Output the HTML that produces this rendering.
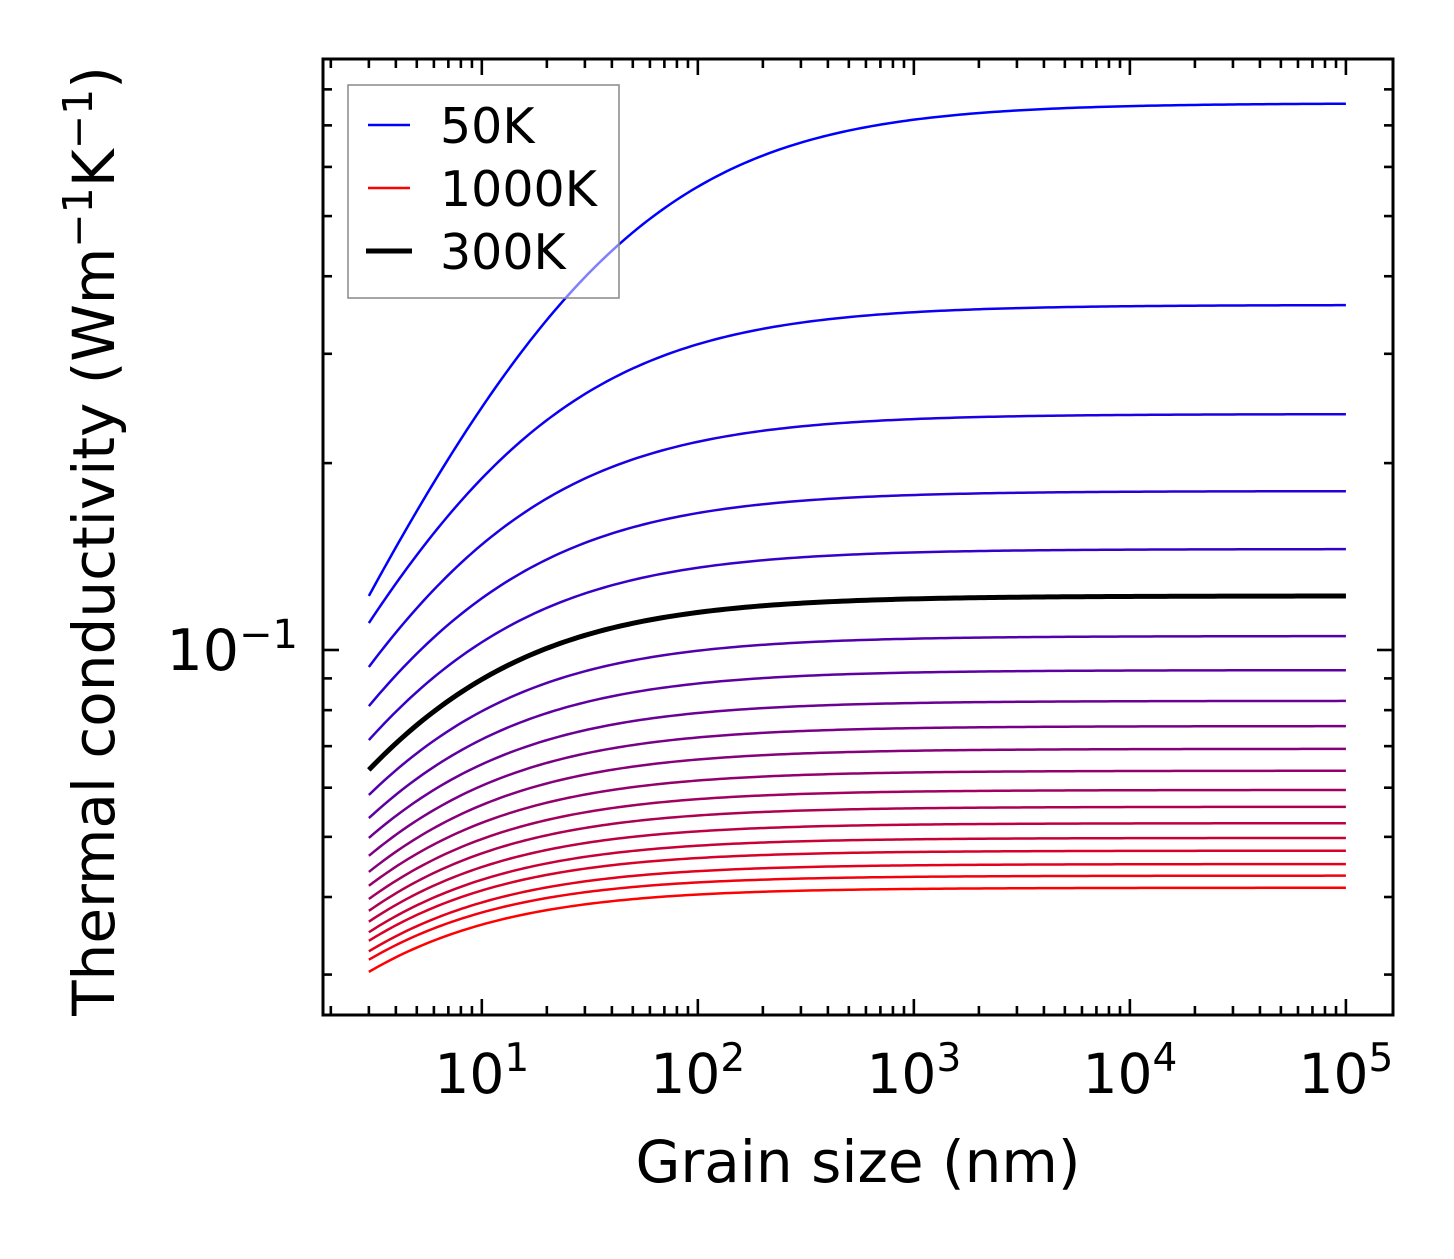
<!DOCTYPE html>
<html><head><meta charset="utf-8">
<style>
html,body{margin:0;padding:0;background:#fff;}
svg text{font-family:"DejaVu Sans","Liberation Sans",sans-serif;fill:#000;}
</style></head>
<body>
<svg id="chart" width="1454" height="1254" viewBox="0 0 1454 1254" xmlns="http://www.w3.org/2000/svg">
<rect width="1454" height="1254" fill="#fff"/>
<g id="curves"></g>
<g id="ticks"></g>
<rect x="323" y="59" width="1070" height="956" fill="none" stroke="#000" stroke-width="3"/>
<g>
<rect x="348" y="85" width="271" height="213" fill="#fff" fill-opacity="0.5" stroke="#888" stroke-width="1.5"/>
<line x1="368" y1="125" x2="410" y2="125" stroke="#0000ff" stroke-width="2.4"/>
<text x="440" y="143" font-size="49">50K</text>
<line x1="368" y1="188" x2="410" y2="188" stroke="#ff0000" stroke-width="2.4"/>
<text x="440" y="206" font-size="49">1000K</text>
<line x1="366" y1="251" x2="412" y2="251" stroke="#000" stroke-width="5"/>
<text x="440" y="269" font-size="49">300K</text>
</g>
<text x="858" y="1182" font-size="58" text-anchor="middle">Grain size (nm)</text>
<text transform="translate(114,541) rotate(-90)" font-size="58" text-anchor="middle">Thermal conductivity (Wm<tspan font-size="41" dy="-22">−1</tspan><tspan dy="22">K</tspan><tspan font-size="41" dy="-22">−1</tspan><tspan dy="22">)</tspan></text>
</svg>
<script>
// Data
const temperatures = [50,100,150,200,250,300,350,400,450,500,550,600,650,700,750,800,850,900,950,1000];
const kPlateau = [0.760,0.3596,0.2399,0.1803,0.1454,0.1222,0.1053,0.0928,0.0828,0.0754,0.0693,0.0639,0.0595,0.0559,0.0526,0.0498,0.0475,0.0452,0.0433,0.0414];
const kAtMinGrain = [0.1222,0.1105,0.0939,0.0812,0.0716,0.0641,0.0584,0.0536,0.0498,0.0466,0.0439,0.0417,0.0397,0.0380,0.0365,0.0351,0.0340,0.0327,0.0317,0.0303];
const grainMin = 3, grainMax = 1e5;
const xTickExps = [1,2,3,4,5];
const yMajorTicks = [0.1];

const NS = "http://www.w3.org/2000/svg";
const L=323,R=1393,T=59,B=1015;
const xLmin=Math.log10(1.84), xLmax=5.218;
const yLmin=-1.588, yLmax=-0.048;
const xs = v => L + (Math.log10(v)-xLmin)/(xLmax-xLmin)*(R-L);
const ys = v => B - (Math.log10(v)-yLmin)/(yLmax-yLmin)*(B-T);
function mk(tag, attrs, parent){const e=document.createElementNS(NS,tag);for(const k in attrs)e.setAttribute(k,attrs[k]);parent.appendChild(e);return e;}

const curves=document.getElementById('curves');
const p=0.76;
function drawCurve(i, color, width, name){
  const r = kPlateau[i]/kAtMinGrain[i]-1;
  const lam = grainMin*Math.pow(r,1/p);
  let d='';
  const n=200;
  for(let j=0;j<=n;j++){
    const lg=Math.log10(grainMin)+(Math.log10(grainMax)-Math.log10(grainMin))*j/n;
    const g=Math.pow(10,lg);
    const k=kPlateau[i]/(1+Math.pow(lam/g,p));
    d+=(j?'L':'M')+xs(g).toFixed(2)+','+ys(k).toFixed(2);
  }
  const el=mk('path',{d:d,fill:'none',stroke:color,'stroke-width':width},curves);
  
  
}
const N=temperatures.length;
for(let i=0;i<N;i++){
  const t=i/(N-1);
  const c='rgb('+Math.round(255*t)+',0,'+Math.round(255*(1-t))+')';
  drawCurve(i,c,2.5,'curve-'+temperatures[i]+'k');
}
drawCurve(temperatures.indexOf(300),'#000',5,'curve-300k-highlight');

const tk=document.getElementById('ticks');
function tick(x1,y1,x2,y2,name){const e=mk('line',{x1:x1,y1:y1,x2:x2,y2:y2,stroke:'#000','stroke-width':2.6},tk);
  
  }
for(let e=0;e<=5;e++){
  for(let m=1;m<=9;m++){
    const v=m*Math.pow(10,e);
    const x=xs(v);
    if(x<L+1||x>R-1)continue;
    const len=m===1?16:9;
    tick(x,B,x,B-len,'x-tick');
    tick(x,T,x,T+len,'x-tick-top');
  }
}
xTickExps.forEach(e=>{
  const x=xs(Math.pow(10,e));
  const t=mk('text',{x:x,y:1093,'font-size':55,'text-anchor':'middle'},tk);
  t.innerHTML='10<tspan font-size="39" dy="-22">'+e+'</tspan>';
  
  
});
for(let e=-2;e<=-1;e++){
  for(let m=1;m<=9;m++){
    const v=m*Math.pow(10,e);
    const y=ys(v);
    if(y<T+1||y>B-1)continue;
    const len=m===1?16:9;
    tick(L,y,L+len,y,'y-tick');
    tick(R,y,R-len,y,'y-tick-right');
  }
}
yMajorTicks.forEach(v=>{
  const t=mk('text',{x:298,y:ys(v)+20,'font-size':57,'text-anchor':'end'},tk);
  t.innerHTML='10<tspan font-size="40" dy="-22">−1</tspan>';
  
  
});
</script>
</body></html>
